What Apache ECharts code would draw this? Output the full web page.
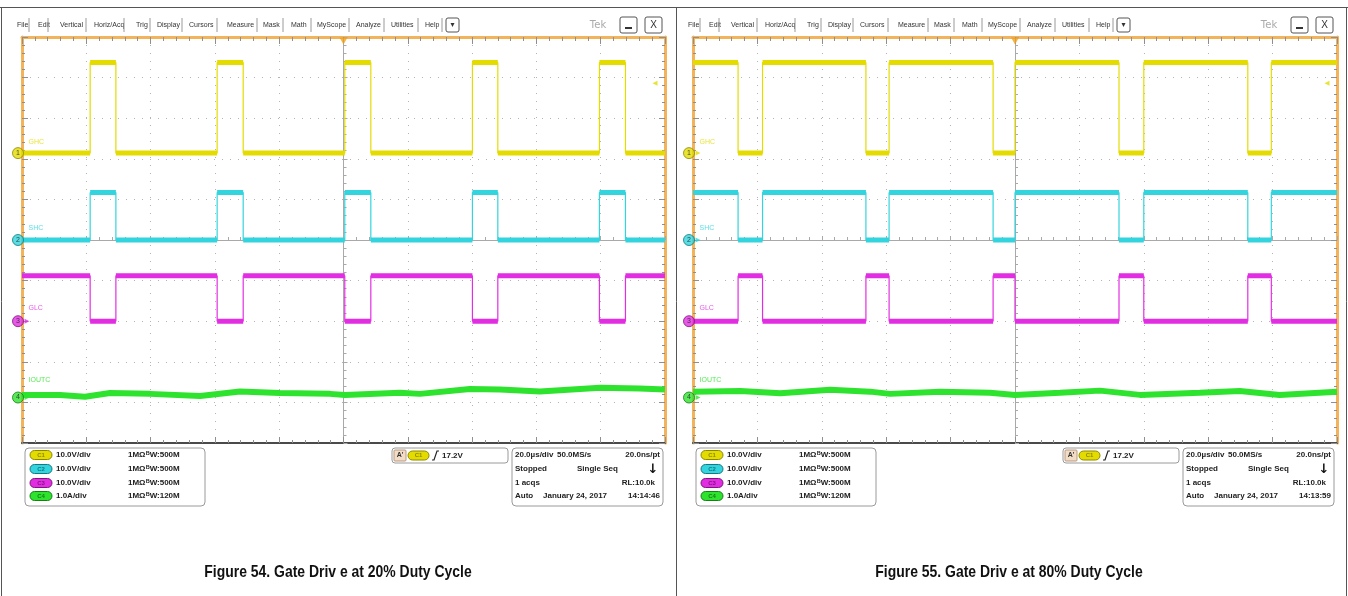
<!DOCTYPE html>
<html>
<head>
<meta charset="utf-8">
<script src="https://cdn.jsdelivr.net/npm/echarts@6/dist/echarts.min.js"></script>
<style>
html, body { margin: 0; padding: 0; background: #fff; }
#chart { width: 1348px; height: 596px; }
</style>
</head>
<body>
<div id="chart"></div>
<script>
// time axis: microseconds, trigger at 0, 20 us/div
// Figure 54 (20% duty) high-side gate edges, us
const ghcRise20 = [-78.8, -39.3, 0.4, 40.1, 79.6];
const ghcFall20 = [-70.8, -31.2, 8.5, 48.0, 87.7];
// Figure 55 (80% duty)
const ghcFall80 = [-86.0, -46.3, -6.8, 32.3, 72.3];
const ghcRise80 = [-78.4, -39.1, 0.0, 40.0, 79.6];

// logic high levels, volts
const ghcHigh = 22.3;
const shcHigh = 11.7;
const glcHigh = 11.2;

// IOUTC current, amps
const iout20Time = [-100, -88.2, -80.4, -72.6, -60.2, -44.6, -32.2, -19.8, -4.2, 0.5, 17.6, 23.8, 39.3, 48.7, 61.1, 79.8, 92.2, 100];
const iout20Amp = [0.06, 0.06, 0.02, 0.11, 0.09, 0.04, 0.15, 0.11, 0.09, 0.06, 0.12, 0.09, 0.21, 0.2, 0.15, 0.24, 0.22, 0.2];
const iout80Time = [-100, -85.3, -72.9, -57.4, -45, -38.8, -23.3, -7.8, 0, 14, 26.4, 38.8, 57.4, 69.8, 82.2, 100];
const iout80Amp = [0.145, 0.16, 0.105, 0.19, 0.145, 0.09, 0.145, 0.12, 0.065, 0.12, 0.17, 0.065, 0.12, 0.16, 0.065, 0.145];

// scope channel setup
const chNames = ['GHC', 'SHC', 'GLC', 'IOUTC'];
const chNums = ['1', '2', '3', '4'];
const chScale = [10, 10, 10, 1];          // V/div, A/div
const chPos = [2.14, 0, -2.0, -3.88];     // divisions
const trigLevel = 17.2;

const chScaleText = ['10.0V/div', '10.0V/div', '10.0V/div', '1.0A/div'];
const chBwText = ['ᴮW:500M', 'ᴮW:500M', 'ᴮW:500M', 'ᴮW:120M'];
const captions = ['Figure 54. Gate Driv e at 20% Duty Cycle', 'Figure 55. Gate Driv e at 80% Duty Cycle'];
const clockTimes = ['14:14:46', '14:13:59'];

const chColors = ['#e4dc00', '#33d4dd', '#e22ee2', '#2ee32e'];
const chDark = ['#8d8800', '#127a82', '#7d157d', '#168016'];
const orange = '#f2b35a';
const labelLift = [-11, -12, -13, -17];

function toDiv(ch, v) { return chPos[ch] + v / chScale[ch]; }

function stepTrace(rises, falls, high, startHigh) {
  const edges = rises.map(t => [t, 1]).concat(falls.map(t => [t, 0])).sort((a, b) => a[0] - b[0]);
  let level = startHigh ? high : 0;
  const pts = [[-100, level]];
  edges.forEach(([t, up]) => {
    pts.push([t, level]);
    level = up ? high : 0;
    pts.push([t, level]);
  });
  pts.push([100, level]);
  return pts;
}

// flat parts only, broken at each edge (for the noisy band)
function flats(pts) {
  const out = [];
  for (let i = 0; i + 1 < pts.length; i += 2) {
    out.push(pts[i], pts[i + 1], [pts[i + 1][0], '-']);
  }
  return out;
}

const panels = [
  {
    grid: { left: 22, top: 37, width: 643, height: 406 },
    traces: [
      stepTrace(ghcRise20, ghcFall20, ghcHigh, false),
      stepTrace(ghcRise20, ghcFall20, shcHigh, false),
      stepTrace(ghcFall20, ghcRise20, glcHigh, true)
    ],
    iout: iout20Time.map((t, i) => [t, iout20Amp[i]])
  },
  {
    grid: { left: 693, top: 37, width: 644, height: 406 },
    traces: [
      stepTrace(ghcRise80, ghcFall80, ghcHigh, true),
      stepTrace(ghcRise80, ghcFall80, shcHigh, true),
      stepTrace(ghcFall80, ghcRise80, glcHigh, false)
    ],
    iout: iout80Time.map((t, i) => [t, iout80Amp[i]])
  }
];

const grids = [], xAxes = [], yAxes = [], series = [];
const tickGray = { color: '#8f8f8f' };

panels.forEach((p, g) => {
  grids.push(Object.assign({ show: true, borderColor: orange, borderWidth: 2, backgroundColor: '#fff' }, p.grid));
  const xb = { type: 'value', gridIndex: g, min: -100, max: 100, interval: 20, axisLabel: { show: false } };
  const yb = { type: 'value', gridIndex: g, min: -5, max: 5, interval: 1, axisLabel: { show: false } };
  // center lines with ticks + dotted graticule
  xAxes.push(Object.assign({}, xb, {
    axisLine: { onZero: true, lineStyle: { color: '#a9a9a9' } },
    axisTick: { inside: true, length: 4, lineStyle: { color: '#a9a9a9' } },
    minorTick: { show: true, splitNumber: 5, length: 3, lineStyle: { color: '#a9a9a9' } },
    splitLine: { show: true, lineStyle: { color: '#b3b3b3', type: [1, 7] } }
  }));
  // top ruler
  xAxes.push(Object.assign({}, xb, {
    position: 'top',
    axisLine: { onZero: false, lineStyle: { color: orange, width: 3 } },
    axisTick: { inside: true, length: 7, lineStyle: tickGray },
    minorTick: { show: true, splitNumber: 5, length: 4, lineStyle: tickGray },
    splitLine: { show: false }
  }));
  // bottom edge
  xAxes.push(Object.assign({}, xb, {
    position: 'bottom',
    axisLine: { onZero: false, lineStyle: { color: '#4a4a4a', width: 2 } },
    axisTick: { inside: true, length: 6, lineStyle: tickGray },
    minorTick: { show: true, splitNumber: 5, length: 3, lineStyle: tickGray },
    splitLine: { show: false }
  }));
  yAxes.push(Object.assign({}, yb, {
    axisLine: { onZero: true, lineStyle: { color: '#a9a9a9' } },
    axisTick: { inside: true, length: 4, lineStyle: { color: '#a9a9a9' } },
    minorTick: { show: true, splitNumber: 5, length: 3, lineStyle: { color: '#a9a9a9' } },
    splitLine: { show: true, lineStyle: { color: '#b3b3b3', type: [1, 7] } }
  }));
  yAxes.push(Object.assign({}, yb, {
    position: 'left',
    axisLine: { onZero: false, lineStyle: { color: orange, width: 3 } },
    axisTick: { inside: true, length: 6, lineStyle: tickGray },
    minorTick: { show: true, splitNumber: 5, length: 3, lineStyle: tickGray },
    splitLine: { show: false }
  }));
  yAxes.push(Object.assign({}, yb, {
    position: 'right',
    axisLine: { onZero: false, lineStyle: { color: orange, width: 3 } },
    axisTick: { inside: true, length: 6, lineStyle: tickGray },
    minorTick: { show: true, splitNumber: 5, length: 3, lineStyle: tickGray },
    splitLine: { show: false }
  }));

  const ax = { xAxisIndex: g * 3, yAxisIndex: g * 3 };
  p.traces.forEach((pts, ch) => {
    const d = pts.map(([t, v]) => [t, toDiv(ch, v)]);
    series.push(Object.assign({
      type: 'line', data: d, symbol: 'none', z: 3,
      lineStyle: { color: chColors[ch], width: 1.2 }
    }, ax));
    series.push(Object.assign({
      type: 'line', data: flats(d), symbol: 'none', z: 3,
      lineStyle: { color: chColors[ch], width: 5 }
    }, ax));
  });
  series.push(Object.assign({
    type: 'line', data: p.iout.map(([t, a]) => [t, toDiv(3, a)]), symbol: 'none', z: 3,
    lineStyle: { color: chColors[3], width: 6 }
  }, ax));

  // channel position markers
  series.push(Object.assign({
    type: 'scatter', clip: false, z: 6, symbol: 'circle', symbolSize: 11, symbolOffset: [-4, 0],
    data: chPos.map((pos, i) => ({
      value: [-100, pos],
      itemStyle: { color: chColors[i], borderColor: chDark[i], borderWidth: 1 },
      label: { show: true, position: 'inside', formatter: chNums[i], fontSize: 7, color: '#222', fontFamily: 'Liberation Sans' }
    }))
  }, ax));
  series.push(Object.assign({
    type: 'scatter', clip: false, z: 2, symbol: 'triangle', symbolSize: [5, 5], symbolRotate: -90, symbolOffset: [5, 0],
    data: chPos.map((pos, i) => ({ value: [-100, pos], itemStyle: { color: chColors[i] } }))
  }, ax));
  // channel names
  series.push(Object.assign({
    type: 'scatter', clip: false, z: 6, symbolSize: 1, itemStyle: { color: 'rgba(0,0,0,0)' },
    data: chPos.map((pos, i) => ({
      value: [-100, pos],
      label: { show: true, position: 'right', distance: 6, offset: [0, labelLift[i]], formatter: chNames[i], fontSize: 7, color: chColors[i], fontFamily: 'Liberation Sans' }
    }))
  }, ax));
  // trigger level + trigger position
  series.push(Object.assign({
    type: 'scatter', clip: false, z: 6, symbol: 'triangle', symbolSize: [5, 5], symbolRotate: 90, symbolOffset: [-10, 0],
    data: [{ value: [100, toDiv(0, trigLevel)], itemStyle: { color: chColors[0] } }]
  }, ax));
  series.push(Object.assign({
    type: 'scatter', clip: false, z: 6, symbol: 'triangle', symbolSize: [8, 7], symbolRotate: 180, symbolOffset: [0, 4],
    data: [{ value: [0, 5], itemStyle: { color: '#f0a020' } }]
  }, ax));
});

// ---- scope chrome (menu, readouts, captions)
const menuItems = [['File', 17], ['Edit', 38], ['Vertical', 60], ['Horiz/Acq', 94], ['Trig', 136], ['Display', 157],
  ['Cursors', 189], ['Measure', 227], ['Mask', 263], ['Math', 291], ['MyScope', 317], ['Analyze', 356],
  ['Utilities', 391], ['Help', 425]];
const menuSeps = [29, 48, 86, 124, 150, 182, 217, 257, 283, 311, 349, 384, 418, 442];
const small = '7px "Liberation Sans"';
const read = 'bold 8px "Liberation Sans"';

function txt(x, y, text, font, fill, align) {
  return { type: 'text', x: x, y: y, style: { text: text, font: font, fill: fill || '#222', align: align || 'left', verticalAlign: 'middle' } };
}
function box(x, y, w, h, r, fill, stroke) {
  return { type: 'rect', shape: { x: x, y: y, width: w, height: h, r: r }, style: { fill: fill, stroke: stroke, lineWidth: 1 } };
}

function chrome(ox, p) {
  const c = [];
  menuItems.forEach(([t, x]) => c.push(txt(x, 25, t, small, '#333')));
  menuSeps.forEach(x => c.push({ type: 'line', shape: { x1: x, y1: 18, x2: x, y2: 32 }, style: { stroke: '#9a9a9a', lineWidth: 1 } }));
  c.push(box(446, 18, 13, 14, 2, '#fff', '#555'));
  c.push(txt(452.5, 25, '▾', '8px "DejaVu Sans"', '#333', 'center'));
  c.push(txt(598, 25, 'Tek', '10px "DejaVu Sans"', '#aaa', 'center'));
  c.push(box(620, 17, 17, 16, 2, '#fff', '#555'));
  c.push({ type: 'line', shape: { x1: 625, y1: 28, x2: 632, y2: 28 }, style: { stroke: '#333', lineWidth: 2 } });
  c.push(box(645, 17, 17, 16, 2, '#fff', '#555'));
  c.push(txt(653.5, 25.5, 'X', '10px "Liberation Sans"', '#333', 'center'));

  // vertical readout box
  c.push(box(25, 448, 180, 58, 4, '#fff', '#9a9a9a'));
  const rows = [455, 469, 483, 496];
  rows.forEach((y, i) => {
    c.push(box(30, y - 4.5, 22, 9, 4.5, chColors[i], chDark[i]));
    c.push(txt(41, y, 'C' + chNums[i], 'bold 6px "Liberation Sans"', chDark[i], 'center'));
    c.push(txt(56, y, chScaleText[i], read));
    c.push(txt(128, y, '1MΩ', read));
    c.push(txt(146, y, chBwText[i], read));
  });
  // trigger box
  c.push(box(392, 448, 116, 15, 3, '#fff', '#9a9a9a'));
  c.push(box(394, 450, 12, 11, 1, '#f3dcc6', '#b89a80'));
  c.push(txt(400, 455.5, "A'", 'bold 7px "Liberation Sans"', '#333', 'center'));
  c.push(box(408, 451, 21, 9, 4.5, chColors[0], chDark[0]));
  c.push(txt(418.5, 455.5, 'C1', 'bold 6px "Liberation Sans"', chDark[0], 'center'));
  c.push({ type: 'polyline', shape: { points: [[432, 460], [434, 460], [437, 451], [439, 451]] }, style: { stroke: '#222', lineWidth: 1.2, fill: null } });
  c.push(txt(442, 455.5, '17.2V', read));
  // horizontal / acquisition box
  c.push(box(512, 448, 151, 58, 4, '#fff', '#9a9a9a'));
  c.push(txt(515, rows[0], '20.0µs/div', read));
  c.push(txt(557, rows[0], '50.0MS/s', read));
  c.push(txt(660, rows[0], '20.0ns/pt', read, '#222', 'right'));
  c.push(txt(515, rows[1], 'Stopped', read));
  c.push(txt(577, rows[1], 'Single Seq', read));
  c.push(txt(653, rows[1] + 1, '↓', 'bold 13px "DejaVu Sans"', '#111', 'center'));
  c.push(txt(515, rows[2], '1 acqs', read));
  c.push(txt(655, rows[2], 'RL:10.0k', read, '#222', 'right'));
  c.push(txt(515, rows[3], 'Auto', read));
  c.push(txt(543, rows[3], 'January 24, 2017', read));
  c.push(txt(660, rows[3], clockTimes[p], read, '#222', 'right'));

  const cap = txt(338, 572, captions[p], 'bold 17px "Liberation Sans", Arial', '#111', 'center');
  cap.scaleX = 0.82;
  c.push(cap);
  return { type: 'group', x: ox, y: 0, children: c };
}

const frame = [
  { type: 'line', shape: { x1: 0, y1: 7.5, x2: 1348, y2: 7.5 }, style: { stroke: '#555', lineWidth: 1 } },
  { type: 'line', shape: { x1: 1.5, y1: 7, x2: 1.5, y2: 596 }, style: { stroke: '#555', lineWidth: 1 } },
  { type: 'line', shape: { x1: 676.5, y1: 7, x2: 676.5, y2: 596 }, style: { stroke: '#555', lineWidth: 1 } },
  { type: 'line', shape: { x1: 1346.5, y1: 7, x2: 1346.5, y2: 596 }, style: { stroke: '#555', lineWidth: 1 } }
];

const chart = echarts.init(document.getElementById('chart'));
chart.setOption({
  animation: false,
  backgroundColor: '#fff',
  grid: grids,
  xAxis: xAxes,
  yAxis: yAxes,
  series: series,
  graphic: { elements: frame.concat([chrome(0, 0), chrome(671, 1)]) }
});
</script>
</body>
</html>
